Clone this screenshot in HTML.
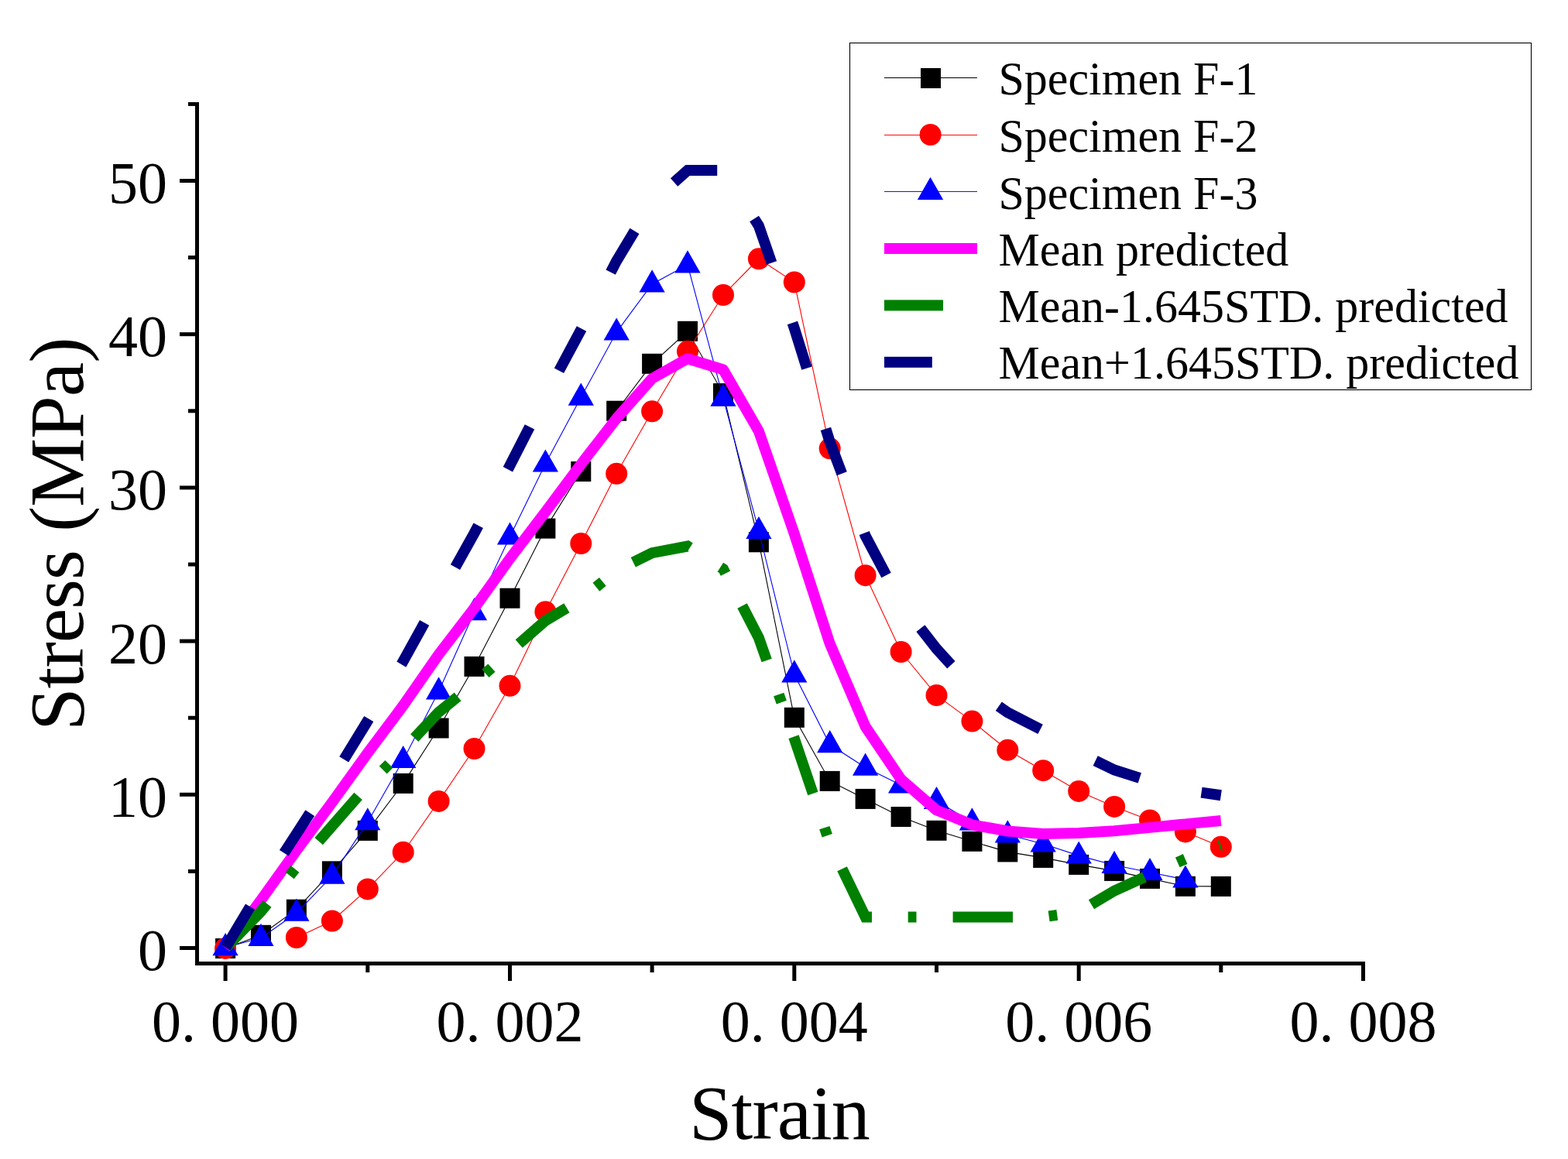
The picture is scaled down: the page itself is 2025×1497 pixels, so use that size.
<!DOCTYPE html>
<html><head><meta charset="utf-8"><title>Stress-Strain</title>
<style>html,body{margin:0;padding:0;background:#fff;}svg{display:block;}</style></head>
<body><svg width="2025" height="1497" viewBox="0 0 2025 1497">
<rect width="2025" height="1497" fill="#fff"/>
<polyline points="291.1,1225.0 337.0,1207.8 382.9,1174.7 428.9,1125.3 474.8,1072.9 520.7,1011.9 566.6,940.5 612.5,860.9 658.5,772.7 704.4,682.6 750.3,609.0 796.2,530.7 842.1,469.8 888.0,427.8 934.0,508.1 979.9,700.3 1025.8,926.8 1071.7,1008.9 1117.6,1031.9 1163.6,1055.0 1209.5,1072.8 1255.4,1086.8 1301.3,1100.4 1347.2,1107.9 1393.2,1116.9 1439.1,1124.9 1485.0,1134.9 1530.9,1144.8 1576.8,1144.9" fill="none" stroke="#000" stroke-width="1.1"/>
<g fill="#000"><rect x="278.1" y="1212.0" width="26" height="26"/><rect x="324.0" y="1194.8" width="26" height="26"/><rect x="369.9" y="1161.7" width="26" height="26"/><rect x="415.9" y="1112.3" width="26" height="26"/><rect x="461.8" y="1059.9" width="26" height="26"/><rect x="507.7" y="998.9" width="26" height="26"/><rect x="553.6" y="927.5" width="26" height="26"/><rect x="599.5" y="847.9" width="26" height="26"/><rect x="645.5" y="759.7" width="26" height="26"/><rect x="691.4" y="669.6" width="26" height="26"/><rect x="737.3" y="596.0" width="26" height="26"/><rect x="783.2" y="517.7" width="26" height="26"/><rect x="829.1" y="456.8" width="26" height="26"/><rect x="875.0" y="414.8" width="26" height="26"/><rect x="921.0" y="495.1" width="26" height="26"/><rect x="966.9" y="687.3" width="26" height="26"/><rect x="1012.8" y="913.8" width="26" height="26"/><rect x="1058.7" y="995.9" width="26" height="26"/><rect x="1104.6" y="1018.9" width="26" height="26"/><rect x="1150.6" y="1042.0" width="26" height="26"/><rect x="1196.5" y="1059.8" width="26" height="26"/><rect x="1242.4" y="1073.8" width="26" height="26"/><rect x="1288.3" y="1087.4" width="26" height="26"/><rect x="1334.2" y="1094.9" width="26" height="26"/><rect x="1380.2" y="1103.9" width="26" height="26"/><rect x="1426.1" y="1111.9" width="26" height="26"/><rect x="1472.0" y="1121.9" width="26" height="26"/><rect x="1517.9" y="1131.8" width="26" height="26"/><rect x="1563.8" y="1131.9" width="26" height="26"/></g>
<polyline points="382.9,1211.0 428.9,1189.5 474.8,1148.4 520.7,1100.7 566.6,1034.9 612.5,967.0 658.5,885.8 704.4,790.2 750.3,702.0 796.2,611.8 842.1,531.3 888.0,453.8 934.0,381.0 979.9,334.3 1025.8,364.4 1071.7,579.3 1117.6,743.2 1163.6,842.0 1209.5,898.1 1255.4,931.6 1301.3,968.8 1347.2,995.2 1393.2,1021.9 1439.1,1041.9 1485.0,1059.4 1530.9,1074.4 1576.8,1093.8" fill="none" stroke="#f00" stroke-width="1.1"/>
<g fill="#f00"><circle cx="291.1" cy="1224.9" r="14"/><circle cx="382.9" cy="1211.0" r="14"/><circle cx="428.9" cy="1189.5" r="14"/><circle cx="474.8" cy="1148.4" r="14"/><circle cx="520.7" cy="1100.7" r="14"/><circle cx="566.6" cy="1034.9" r="14"/><circle cx="612.5" cy="967.0" r="14"/><circle cx="658.5" cy="885.8" r="14"/><circle cx="704.4" cy="790.2" r="14"/><circle cx="750.3" cy="702.0" r="14"/><circle cx="796.2" cy="611.8" r="14"/><circle cx="842.1" cy="531.3" r="14"/><circle cx="888.0" cy="453.8" r="14"/><circle cx="934.0" cy="381.0" r="14"/><circle cx="979.9" cy="334.3" r="14"/><circle cx="1025.8" cy="364.4" r="14"/><circle cx="1071.7" cy="579.3" r="14"/><circle cx="1117.6" cy="743.2" r="14"/><circle cx="1163.6" cy="842.0" r="14"/><circle cx="1209.5" cy="898.1" r="14"/><circle cx="1255.4" cy="931.6" r="14"/><circle cx="1301.3" cy="968.8" r="14"/><circle cx="1347.2" cy="995.2" r="14"/><circle cx="1393.2" cy="1021.9" r="14"/><circle cx="1439.1" cy="1041.9" r="14"/><circle cx="1485.0" cy="1059.4" r="14"/><circle cx="1530.9" cy="1074.4" r="14"/><circle cx="1576.8" cy="1093.8" r="14"/></g>
<polyline points="291.1,1223.8 337.0,1211.5 382.9,1179.3 428.9,1131.4 474.8,1061.9 520.7,981.7 566.6,893.0 612.5,790.8 658.5,693.2 704.4,599.1 750.3,513.3 796.2,429.1 842.1,367.0 888.0,342.0 934.0,514.3 979.9,685.7 1025.8,871.0 1071.7,961.8 1117.6,991.3 1163.6,1014.0 1209.5,1034.6 1255.4,1062.0 1301.3,1078.0 1347.2,1090.0 1393.2,1105.1 1439.1,1117.5 1485.0,1126.7 1530.9,1136.2" fill="none" stroke="#00f" stroke-width="1.1"/>
<g fill="#00f"><path d="M291.1 1205.1L307.7 1234.2L274.5 1234.2Z"/><path d="M337.0 1192.8L353.6 1221.9L320.4 1221.9Z"/><path d="M382.9 1160.6L399.5 1189.7L366.3 1189.7Z"/><path d="M428.9 1112.7L445.5 1141.8L412.3 1141.8Z"/><path d="M474.8 1043.2L491.4 1072.3L458.2 1072.3Z"/><path d="M520.7 963.0L537.3 992.1L504.1 992.1Z"/><path d="M566.6 874.3L583.2 903.4L550.0 903.4Z"/><path d="M612.5 772.1L629.1 801.2L595.9 801.2Z"/><path d="M658.5 674.5L675.1 703.6L641.9 703.6Z"/><path d="M704.4 580.4L721.0 609.5L687.8 609.5Z"/><path d="M750.3 494.6L766.9 523.7L733.7 523.7Z"/><path d="M796.2 410.4L812.8 439.5L779.6 439.5Z"/><path d="M842.1 348.3L858.7 377.4L825.5 377.4Z"/><path d="M888.0 323.3L904.6 352.4L871.4 352.4Z"/><path d="M934.0 495.6L950.6 524.7L917.4 524.7Z"/><path d="M979.9 667.0L996.5 696.1L963.3 696.1Z"/><path d="M1025.8 852.3L1042.4 881.4L1009.2 881.4Z"/><path d="M1071.7 943.1L1088.3 972.2L1055.1 972.2Z"/><path d="M1117.6 972.6L1134.2 1001.7L1101.0 1001.7Z"/><path d="M1163.6 995.3L1180.2 1024.4L1147.0 1024.4Z"/><path d="M1209.5 1015.9L1226.1 1045.0L1192.9 1045.0Z"/><path d="M1255.4 1043.3L1272.0 1072.4L1238.8 1072.4Z"/><path d="M1301.3 1059.3L1317.9 1088.4L1284.7 1088.4Z"/><path d="M1347.2 1071.3L1363.8 1100.4L1330.6 1100.4Z"/><path d="M1393.2 1086.4L1409.8 1115.5L1376.6 1115.5Z"/><path d="M1439.1 1098.8L1455.7 1127.9L1422.5 1127.9Z"/><path d="M1485.0 1108.0L1501.6 1137.1L1468.4 1137.1Z"/><path d="M1530.9 1117.5L1547.5 1146.6L1514.3 1146.6Z"/></g>
<polyline points="291.1,1224.5 337.0,1162.6 382.9,1098.5 428.9,1036.4 474.8,972.7 520.7,911.3 566.6,845.3 612.5,785.6 658.5,721.5 704.4,661.2 750.3,599.7 796.2,540.5 842.1,489.0 888.0,463.2 934.0,477.4 979.9,557.0 1025.8,689.5 1071.7,831.3 1117.6,938.5 1163.6,1006.6 1209.5,1046.4 1255.4,1065.3 1301.3,1073.5 1347.2,1077.0 1393.2,1076.0 1439.1,1073.3 1485.0,1068.9 1530.9,1064.4 1576.8,1060.0" fill="none" stroke="#f0f" stroke-width="14" stroke-linejoin="round"/>
<polyline points="291.1,1224.5 337.0,1177.3 382.9,1119.9 428.9,1066.8 474.8,1014.5 520.7,968.5 566.6,919.8 612.5,882.6 658.5,841.6 704.4,801.8 750.3,774.1 796.2,736.9 842.1,714.2 888.0,705.5 934.0,734.9 979.9,823.9 1025.8,953.8 1071.7,1089.5 1117.6,1184.4 1163.6,1184.4 1209.5,1184.4 1255.4,1184.4 1301.3,1184.4 1347.2,1184.4 1393.2,1178.1 1439.1,1150.6 1485.0,1129.6 1530.9,1109.4 1576.8,1091.8" fill="none" stroke="#008000" stroke-width="14" stroke-dasharray="77.4 46.7 10.8 47.1" stroke-dashoffset="-1.3"/>
<polyline points="291.1,1224.5 337.0,1147.8 382.9,1077.0 428.9,1006.0 474.8,931.0 520.7,854.1 566.6,770.8 612.5,688.6 658.5,601.3 704.4,511.5 750.3,425.9 796.2,337.1 842.1,261.0 888.0,220.0 934.0,220.0 979.9,291.6 1025.8,423.9 1071.7,570.7 1117.6,692.0 1163.6,779.2 1209.5,838.0 1255.4,888.4 1301.3,920.3 1347.2,943.7 1393.2,972.2 1439.1,994.5 1485.0,1009.1 1530.9,1020.6 1576.8,1027.3" fill="none" stroke="#000080" stroke-width="14" stroke-dasharray="61.5 82.02" stroke-dashoffset="-0.7"/>
<g fill="#000">
<rect x="252" y="132" width="5" height="1115"/>
<rect x="252" y="1242" width="1511" height="5"/>
<rect x="232" y="1222.0" width="20" height="5"/>
<rect x="243" y="1122.9" width="9" height="5"/>
<rect x="232" y="1023.8" width="20" height="5"/>
<rect x="243" y="924.7" width="9" height="5"/>
<rect x="232" y="825.6" width="20" height="5"/>
<rect x="243" y="726.5" width="9" height="5"/>
<rect x="232" y="627.4" width="20" height="5"/>
<rect x="243" y="528.3" width="9" height="5"/>
<rect x="232" y="429.2" width="20" height="5"/>
<rect x="243" y="330.1" width="9" height="5"/>
<rect x="232" y="231.0" width="20" height="5"/>
<rect x="243" y="131.9" width="9" height="5"/>
<rect x="288.6" y="1247" width="5" height="20"/>
<rect x="472.3" y="1247" width="5" height="9"/>
<rect x="656.0" y="1247" width="5" height="20"/>
<rect x="839.6" y="1247" width="5" height="9"/>
<rect x="1023.3" y="1247" width="5" height="20"/>
<rect x="1207.0" y="1247" width="5" height="9"/>
<rect x="1390.7" y="1247" width="5" height="20"/>
<rect x="1574.3" y="1247" width="5" height="9"/>
<rect x="1758.0" y="1247" width="5" height="20"/>
</g>
<g font-family="Liberation Serif, Times New Roman, serif" font-size="76" fill="#000">
<text x="216" y="1253.0" text-anchor="end">0</text>
<text x="216" y="1054.8" text-anchor="end">10</text>
<text x="216" y="856.6" text-anchor="end">20</text>
<text x="216" y="658.4" text-anchor="end">30</text>
<text x="216" y="460.2" text-anchor="end">40</text>
<text x="216" y="262.0" text-anchor="end">50</text>
<text x="291.1" y="1345" text-anchor="middle" xml:space="preserve">0. 000</text>
<text x="658.5" y="1345" text-anchor="middle" xml:space="preserve">0. 002</text>
<text x="1025.8" y="1345" text-anchor="middle" xml:space="preserve">0. 004</text>
<text x="1393.2" y="1345" text-anchor="middle" xml:space="preserve">0. 006</text>
<text x="1760.5" y="1345" text-anchor="middle" xml:space="preserve">0. 008</text>
</g>
<text x="890" y="1471" letter-spacing="-1" font-family="Liberation Serif, serif" font-size="100">Strain</text>
<text transform="translate(106.6 944) rotate(-90)" letter-spacing="-1" font-family="Liberation Serif, serif" font-size="100">Stress (MPa)</text>
<rect x="1097.5" y="55.5" width="880" height="448" fill="#fff" stroke="#000" stroke-width="1.1"/>
<line x1="1142" y1="100.5" x2="1262" y2="100.5" stroke="#000" stroke-width="1"/>
<rect x="1189" y="88.0" width="26" height="26" fill="#000"/>
<line x1="1142" y1="174.4" x2="1262" y2="174.4" stroke="#f00" stroke-width="1"/>
<circle cx="1201.6" cy="174.0" r="14" fill="#f00"/>
<line x1="1142" y1="247.4" x2="1262" y2="247.4" stroke="#00f" stroke-width="1"/>
<path d="M1201.5 228.8L1218.1 257.9L1184.9 257.9Z" fill="#00f"/>
<rect x="1142" y="314" width="120" height="14" fill="#f0f"/>
<rect x="1142" y="387.4" width="76" height="14" fill="#008000"/>
<rect x="1142" y="460.8" width="61.8" height="14" fill="#000080"/>
<g font-family="Liberation Serif, serif" font-size="60" fill="#000">
<text transform="translate(1289.5 122.3) scale(1 1.035)">Specimen F-1</text>
<text transform="translate(1289.5 196.3) scale(1 1.035)">Specimen F-2</text>
<text transform="translate(1289.5 269.5) scale(1 1.035)">Specimen F-3</text>
<text transform="translate(1289.5 342.9) scale(1 1.035)">Mean predicted</text>
<text transform="translate(1289.5 416.1) scale(1 1.035)">Mean-1.645STD. predicted</text>
<text transform="translate(1289.5 489.1) scale(1 1.035)">Mean+1.645STD. predicted</text>
</g>
</svg></body></html>
